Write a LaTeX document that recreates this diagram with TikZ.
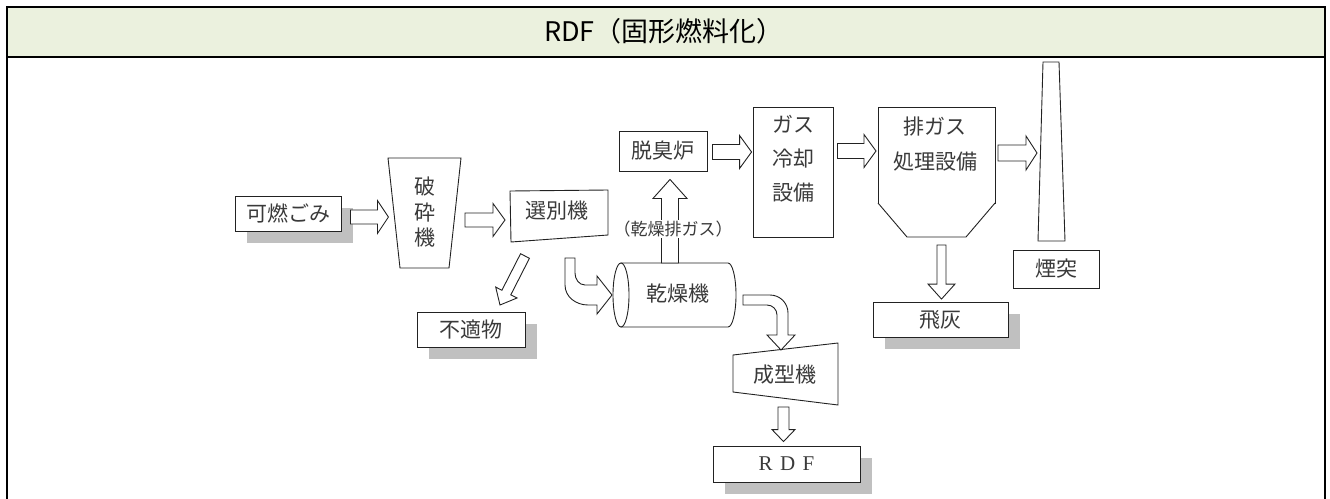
\documentclass[tikz,border=0pt]{standalone}
\usepackage{fontspec}
\setmainfont{Liberation Serif}
\newfontfamily\jp{Noto Sans CJK JP}
\newfontfamily\rdfserif{Liberation Serif}
\usetikzlibrary{calc,shadows}
\definecolor{hdr}{HTML}{EBF1DE}
\definecolor{ink}{HTML}{222222}
\definecolor{txt}{HTML}{3A3A3A}
\definecolor{shd}{HTML}{C0C0C0}
\tikzset{
  box/.style={draw=ink, line width=0.9pt, fill=white, inner sep=0pt, text=txt, font={\jp\fontsize{21}{25}\selectfont}},
  sbox/.style={box, general shadow={shadow xshift=12pt, shadow yshift=-12pt, fill=shd}},
  lbl/.style={inner sep=0pt, text=txt, align=center, font={\jp\fontsize{21}{25}\selectfont}},
  outline/.style={draw=ink, line width=0.9pt, fill=white, line join=miter},
  blk/.style={draw=ink, line width=0.9pt, fill=white, line join=miter},
  frame/.style={draw=black, line width=2pt},
}
\newcommand\blockarrow[5]{%
  \path let \p1=#1, \p2=#2 in \pgfextra{%
    \pgfmathsetmacro\tmpa{atan2(\y2-\y1,\x2-\x1)}\global\let\BAa\tmpa
    \pgfmathsetmacro\tmpl{veclen(\x2-\x1,\y2-\y1)}\global\let\BAl\tmpl
    \xdef\BAx{\x1}\xdef\BAy{\y1}};
  \begin{scope}[shift={(\BAx,\BAy)}, rotate=\BAa, x=1pt, y=1pt]
    \draw[blk] (0,#3) -- ({\BAl-#5},#3) -- ({\BAl-#5},#4) -- (\BAl,0) -- ({\BAl-#5},-#4) -- ({\BAl-#5},-#3) -- (0,-#3) -- cycle;
  \end{scope}}
\begin{document}
\begin{tikzpicture}[x=1pt, y=-1pt]
\useasboundingbox (0,0) rectangle (1330,498);
% frame and header
\fill[hdr] (6.5,6.5) rectangle (1325,56.5);
\draw[frame] (6.5,510) -- (6.5,6.5) -- (1325,6.5) -- (1325,510);
\draw[frame] (6.5,56.5) -- (1325,56.5);
\node[font={\jp\fontsize{27}{30}\selectfont}, text=black] (title) at (664,31) {RDF（固形燃料化）};

% nodes
\node[sbox, minimum width=106, minimum height=35] (gomi) at (288,213.5) {可燃ごみ};
\draw[outline] (388,158) -- (461,158) -- (449,268) -- (400,268) -- cycle;
\node[lbl, font={\jp\fontsize{21}{25.5}\selectfont}] (crusher) at (424.5,212.5) {破\\砕\\機};
\draw[outline] (510,191) -- (608,190) -- (608,235) -- (511,242) -- cycle;
\node[lbl] (sorter) at (557,211) {選別機};
\node[sbox, minimum width=108, minimum height=35] (unfit) at (471,329.5) {不適物};
\node[box, minimum width=88, minimum height=40] (deo) at (663,151) {脱臭炉};
\node[box, minimum width=80, minimum height=130] (cool) at (793,172) {};
\node[lbl, font={\jp\fontsize{21}{34}\selectfont}] (cooltxt) at (793,159) {ガス\\冷却\\設備};
\draw[outline] (878,107) rectangle (995,203);
\draw[outline] (878,203) -- (907,237) -- (966,237) -- (995,203);
\node[lbl, font={\jp\fontsize{21}{35}\selectfont}] (exh) at (935,144.5) {排ガス\\処理設備};
\draw[outline] (1043,62) -- (1059,62) -- (1065,241) -- (1038,241) -- cycle;
\node[box, minimum width=86, minimum height=38] (chim) at (1056,269) {煙突};
\node[sbox, minimum width=135, minimum height=35] (ash) at (940.5,319.5) {飛灰};
% dryer cylinder
\draw[outline] (621,263) -- (728,263) arc[start angle=90, end angle=-90, x radius=8pt, y radius=32pt] -- (621,327) -- cycle;
\draw[outline] (621,295) ellipse [x radius=8pt, y radius=32pt];
\node[lbl] (dryer) at (678,294) {乾燥機};
\draw[outline] (733,355) -- (838,343) -- (838,405) -- (733,392) -- cycle;
\node[lbl] (molder) at (785,375) {成型機};
\node[sbox, minimum width=147, minimum height=36, font={\rdfserif\fontsize{21}{24}\selectfont}] (rdf) at (786.5,464) {R\hspace{0.35em}D\hspace{0.35em}F};

% block arrows
\blockarrow{($(gomi.east)+(9,3.5)$)}{($(gomi.east)+(47,3.5)$)}{7}{16.5}{11}
\blockarrow{(465,220)}{(505,220)}{7}{16.5}{12}
\blockarrow{(525,256)}{(500,305)}{5}{12}{14}
\blockarrow{($(deo.east)+(5,1)$)}{($(cool.west)+(-1,-20)$)}{7.5}{16.5}{12}
\blockarrow{($(cool.east)+(4,-21)$)}{(876,151)}{7.5}{16.5}{12}
\blockarrow{(998,153)}{(1037,153)}{8}{17}{11}
\blockarrow{(941.5,245)}{($(ash.north)+(1,-2.5)$)}{4.5}{13.5}{15}
\blockarrow{(670,263)}{($(deo.south)+(7,8)$)}{8.5}{17}{19}
\blockarrow{(783.5,407)}{($(rdf.north)+(-3,-4)$)}{5.5}{11.5}{12}
\node[lbl, fill=white, inner sep=1pt, font={\jp\fontsize{17}{20}\selectfont}] (gaslbl) at (673,229) {（乾燥排ガス）};

% curved arrows
\draw[blk] (565,258) -- (565,285) to[out=-90,in=180] (588,305) -- (597,305) -- (597,314) -- (612,295) -- (597,276) -- (597,285) -- (585,285) to[out=180,in=-90] (575,273) -- (575,258) -- cycle;
\draw[blk] (743,295) -- (770,295) to[out=0,in=90] (788,313) -- (788,335) -- (795,335) -- (781,350) -- (767,335) -- (777,335) -- (777,315) to[out=90,in=0] (767,305) -- (743,305) -- cycle;
\end{tikzpicture}
\end{document}
